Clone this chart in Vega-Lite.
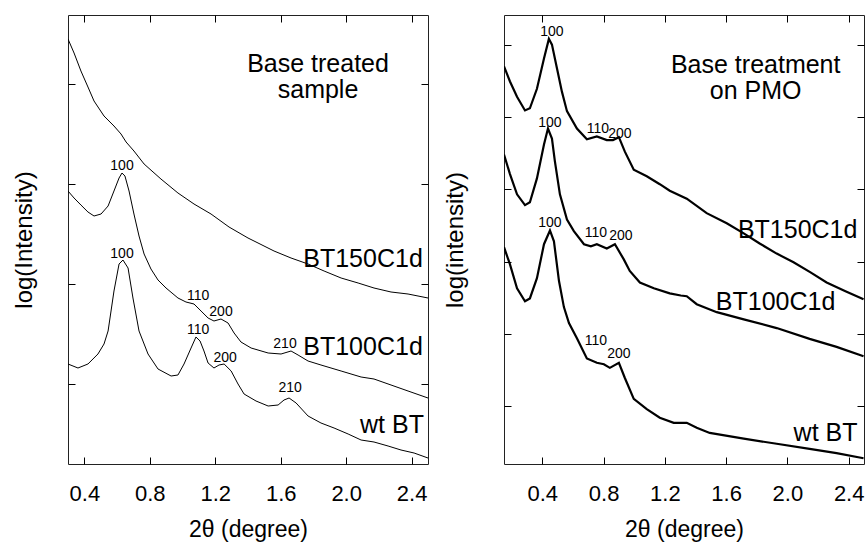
{
  "$schema": "https://vega.github.io/schema/vega-lite/v6.json",
  "padding": {"left": 11, "top": 14, "right": 0, "bottom": 0},
  "background": "white",
  "spacing": 76,
  "bounds": "flush",
  "config": {
    "font": "Liberation Sans",
    "view": {"stroke": "#222", "strokeWidth": 1},
    "axis": {
      "domain": false, "grid": false,
      "tickColor": "black", "tickSize": -7, "tickWidth": 1,
      "labelFont": "Liberation Sans", "labelFontSize": 22, "labelColor": "black",
      "labelBaseline": "alphabetic", "labelPadding": 43,
      "titleFont": "Liberation Sans", "titleFontSize": 23, "titleFontWeight": "normal", "titleColor": "black"
    },
    "text": {"font": "Liberation Sans", "color": "black"}
  },
  "datasets": {
    "left": [
      {"s":"BT150C1d","x":0.300,"y":4.45},{"s":"BT150C1d","x":0.337,"y":4.31},{"s":"BT150C1d","x":0.379,"y":4.13},{"s":"BT150C1d","x":0.422,"y":3.97},{"s":"BT150C1d","x":0.459,"y":3.83},{"s":"BT150C1d","x":0.520,"y":3.68},{"s":"BT150C1d","x":0.581,"y":3.58},{"s":"BT150C1d","x":0.624,"y":3.50},{"s":"BT150C1d","x":0.655,"y":3.42},{"s":"BT150C1d","x":0.703,"y":3.33},{"s":"BT150C1d","x":0.765,"y":3.20},{"s":"BT150C1d","x":0.868,"y":3.05},{"s":"BT150C1d","x":0.972,"y":2.91},{"s":"BT150C1d","x":1.070,"y":2.80},{"s":"BT150C1d","x":1.174,"y":2.70},{"s":"BT150C1d","x":1.284,"y":2.57},{"s":"BT150C1d","x":1.400,"y":2.46},{"s":"BT150C1d","x":1.559,"y":2.33},{"s":"BT150C1d","x":1.663,"y":2.26},{"s":"BT150C1d","x":1.767,"y":2.20},{"s":"BT150C1d","x":1.865,"y":2.13},{"s":"BT150C1d","x":1.969,"y":2.06},{"s":"BT150C1d","x":2.073,"y":2.01},{"s":"BT150C1d","x":2.170,"y":1.96},{"s":"BT150C1d","x":2.274,"y":1.92},{"s":"BT150C1d","x":2.378,"y":1.90},{"s":"BT150C1d","x":2.500,"y":1.86},
      {"s":"BT100C1d","x":0.300,"y":2.93},{"s":"BT100C1d","x":0.337,"y":2.86},{"s":"BT100C1d","x":0.379,"y":2.79},{"s":"BT100C1d","x":0.422,"y":2.72},{"s":"BT100C1d","x":0.459,"y":2.68},{"s":"BT100C1d","x":0.502,"y":2.70},{"s":"BT100C1d","x":0.545,"y":2.78},{"s":"BT100C1d","x":0.581,"y":2.93},{"s":"BT100C1d","x":0.612,"y":3.06},{"s":"BT100C1d","x":0.630,"y":3.11},{"s":"BT100C1d","x":0.648,"y":3.08},{"s":"BT100C1d","x":0.673,"y":2.93},{"s":"BT100C1d","x":0.703,"y":2.70},{"s":"BT100C1d","x":0.734,"y":2.48},{"s":"BT100C1d","x":0.765,"y":2.30},{"s":"BT100C1d","x":0.807,"y":2.15},{"s":"BT100C1d","x":0.850,"y":2.04},{"s":"BT100C1d","x":0.899,"y":1.96},{"s":"BT100C1d","x":0.972,"y":1.86},{"s":"BT100C1d","x":1.021,"y":1.82},{"s":"BT100C1d","x":1.070,"y":1.80},{"s":"BT100C1d","x":1.113,"y":1.73},{"s":"BT100C1d","x":1.156,"y":1.66},{"s":"BT100C1d","x":1.192,"y":1.63},{"s":"BT100C1d","x":1.235,"y":1.65},{"s":"BT100C1d","x":1.278,"y":1.61},{"s":"BT100C1d","x":1.315,"y":1.51},{"s":"BT100C1d","x":1.357,"y":1.42},{"s":"BT100C1d","x":1.419,"y":1.36},{"s":"BT100C1d","x":1.523,"y":1.31},{"s":"BT100C1d","x":1.602,"y":1.30},{"s":"BT100C1d","x":1.663,"y":1.33},{"s":"BT100C1d","x":1.706,"y":1.29},{"s":"BT100C1d","x":1.767,"y":1.23},{"s":"BT100C1d","x":1.846,"y":1.19},{"s":"BT100C1d","x":1.969,"y":1.13},{"s":"BT100C1d","x":2.091,"y":1.07},{"s":"BT100C1d","x":2.170,"y":1.05},{"s":"BT100C1d","x":2.274,"y":0.99},{"s":"BT100C1d","x":2.378,"y":0.93},{"s":"BT100C1d","x":2.500,"y":0.86},
      {"s":"wt BT","x":0.300,"y":1.20},{"s":"wt BT","x":0.361,"y":1.16},{"s":"wt BT","x":0.422,"y":1.20},{"s":"wt BT","x":0.483,"y":1.30},{"s":"wt BT","x":0.520,"y":1.40},{"s":"wt BT","x":0.545,"y":1.53},{"s":"wt BT","x":0.563,"y":1.73},{"s":"wt BT","x":0.581,"y":1.93},{"s":"wt BT","x":0.612,"y":2.20},{"s":"wt BT","x":0.636,"y":2.24},{"s":"wt BT","x":0.667,"y":2.16},{"s":"wt BT","x":0.697,"y":1.86},{"s":"wt BT","x":0.734,"y":1.53},{"s":"wt BT","x":0.789,"y":1.30},{"s":"wt BT","x":0.850,"y":1.15},{"s":"wt BT","x":0.930,"y":1.08},{"s":"wt BT","x":0.972,"y":1.09},{"s":"wt BT","x":1.009,"y":1.20},{"s":"wt BT","x":1.052,"y":1.36},{"s":"wt BT","x":1.082,"y":1.47},{"s":"wt BT","x":1.107,"y":1.43},{"s":"wt BT","x":1.131,"y":1.33},{"s":"wt BT","x":1.156,"y":1.21},{"s":"wt BT","x":1.192,"y":1.16},{"s":"wt BT","x":1.223,"y":1.19},{"s":"wt BT","x":1.254,"y":1.20},{"s":"wt BT","x":1.297,"y":1.13},{"s":"wt BT","x":1.339,"y":1.00},{"s":"wt BT","x":1.376,"y":0.90},{"s":"wt BT","x":1.449,"y":0.83},{"s":"wt BT","x":1.523,"y":0.78},{"s":"wt BT","x":1.584,"y":0.79},{"s":"wt BT","x":1.620,"y":0.84},{"s":"wt BT","x":1.651,"y":0.86},{"s":"wt BT","x":1.694,"y":0.81},{"s":"wt BT","x":1.767,"y":0.68},{"s":"wt BT","x":1.846,"y":0.61},{"s":"wt BT","x":1.926,"y":0.56},{"s":"wt BT","x":2.012,"y":0.50},{"s":"wt BT","x":2.091,"y":0.44},{"s":"wt BT","x":2.170,"y":0.42},{"s":"wt BT","x":2.256,"y":0.38},{"s":"wt BT","x":2.335,"y":0.34},{"s":"wt BT","x":2.415,"y":0.31},{"s":"wt BT","x":2.500,"y":0.26}
    ],
    "right": [
      {"s":"BT150C1d","x":0.150,"y":5.70},{"s":"BT150C1d","x":0.189,"y":5.49},{"s":"BT150C1d","x":0.235,"y":5.28},{"s":"BT150C1d","x":0.287,"y":5.09},{"s":"BT150C1d","x":0.319,"y":5.12},{"s":"BT150C1d","x":0.365,"y":5.39},{"s":"BT150C1d","x":0.411,"y":5.81},{"s":"BT150C1d","x":0.443,"y":6.08},{"s":"BT150C1d","x":0.463,"y":6.00},{"s":"BT150C1d","x":0.496,"y":5.67},{"s":"BT150C1d","x":0.528,"y":5.35},{"s":"BT150C1d","x":0.561,"y":5.08},{"s":"BT150C1d","x":0.626,"y":4.84},{"s":"BT150C1d","x":0.691,"y":4.69},{"s":"BT150C1d","x":0.756,"y":4.73},{"s":"BT150C1d","x":0.821,"y":4.68},{"s":"BT150C1d","x":0.861,"y":4.68},{"s":"BT150C1d","x":0.900,"y":4.72},{"s":"BT150C1d","x":0.939,"y":4.52},{"s":"BT150C1d","x":0.997,"y":4.27},{"s":"BT150C1d","x":1.082,"y":4.18},{"s":"BT150C1d","x":1.167,"y":4.07},{"s":"BT150C1d","x":1.232,"y":3.98},{"s":"BT150C1d","x":1.343,"y":3.87},{"s":"BT150C1d","x":1.473,"y":3.67},{"s":"BT150C1d","x":1.604,"y":3.53},{"s":"BT150C1d","x":1.715,"y":3.39},{"s":"BT150C1d","x":1.819,"y":3.25},{"s":"BT150C1d","x":1.930,"y":3.11},{"s":"BT150C1d","x":2.040,"y":2.99},{"s":"BT150C1d","x":2.151,"y":2.85},{"s":"BT150C1d","x":2.256,"y":2.71},{"s":"BT150C1d","x":2.379,"y":2.59},{"s":"BT150C1d","x":2.497,"y":2.48},
      {"s":"BT100C1d","x":0.150,"y":4.48},{"s":"BT100C1d","x":0.189,"y":4.21},{"s":"BT100C1d","x":0.235,"y":3.93},{"s":"BT100C1d","x":0.287,"y":3.78},{"s":"BT100C1d","x":0.319,"y":3.82},{"s":"BT100C1d","x":0.365,"y":4.15},{"s":"BT100C1d","x":0.411,"y":4.62},{"s":"BT100C1d","x":0.437,"y":4.84},{"s":"BT100C1d","x":0.463,"y":4.70},{"s":"BT100C1d","x":0.482,"y":4.39},{"s":"BT100C1d","x":0.515,"y":3.93},{"s":"BT100C1d","x":0.561,"y":3.58},{"s":"BT100C1d","x":0.606,"y":3.42},{"s":"BT100C1d","x":0.672,"y":3.24},{"s":"BT100C1d","x":0.717,"y":3.21},{"s":"BT100C1d","x":0.756,"y":3.24},{"s":"BT100C1d","x":0.821,"y":3.18},{"s":"BT100C1d","x":0.874,"y":3.24},{"s":"BT100C1d","x":0.932,"y":3.03},{"s":"BT100C1d","x":0.971,"y":2.87},{"s":"BT100C1d","x":1.037,"y":2.71},{"s":"BT100C1d","x":1.128,"y":2.63},{"s":"BT100C1d","x":1.232,"y":2.56},{"s":"BT100C1d","x":1.304,"y":2.53},{"s":"BT100C1d","x":1.343,"y":2.52},{"s":"BT100C1d","x":1.408,"y":2.41},{"s":"BT100C1d","x":1.539,"y":2.30},{"s":"BT100C1d","x":1.715,"y":2.20},{"s":"BT100C1d","x":1.930,"y":2.08},{"s":"BT100C1d","x":2.145,"y":1.93},{"s":"BT100C1d","x":2.321,"y":1.82},{"s":"BT100C1d","x":2.497,"y":1.69},
      {"s":"wt BT","x":0.150,"y":3.20},{"s":"wt BT","x":0.189,"y":2.96},{"s":"wt BT","x":0.235,"y":2.63},{"s":"wt BT","x":0.287,"y":2.45},{"s":"wt BT","x":0.319,"y":2.49},{"s":"wt BT","x":0.365,"y":2.77},{"s":"wt BT","x":0.411,"y":3.24},{"s":"wt BT","x":0.450,"y":3.43},{"s":"wt BT","x":0.476,"y":3.28},{"s":"wt BT","x":0.509,"y":2.73},{"s":"wt BT","x":0.541,"y":2.37},{"s":"wt BT","x":0.574,"y":2.15},{"s":"wt BT","x":0.626,"y":1.94},{"s":"wt BT","x":0.691,"y":1.66},{"s":"wt BT","x":0.756,"y":1.60},{"s":"wt BT","x":0.802,"y":1.58},{"s":"wt BT","x":0.841,"y":1.53},{"s":"wt BT","x":0.900,"y":1.60},{"s":"wt BT","x":0.939,"y":1.39},{"s":"wt BT","x":0.997,"y":1.10},{"s":"wt BT","x":1.082,"y":0.96},{"s":"wt BT","x":1.167,"y":0.84},{"s":"wt BT","x":1.258,"y":0.77},{"s":"wt BT","x":1.343,"y":0.77},{"s":"wt BT","x":1.408,"y":0.70},{"s":"wt BT","x":1.493,"y":0.63},{"s":"wt BT","x":1.715,"y":0.55},{"s":"wt BT","x":1.930,"y":0.48},{"s":"wt BT","x":2.145,"y":0.41},{"s":"wt BT","x":2.321,"y":0.35},{"s":"wt BT","x":2.497,"y":0.28}
    ],
    "leftSmall": [
      {"x":0.630,"y":3.18,"t":"100"},{"x":0.630,"y":2.30,"t":"100"},{"x":1.095,"y":1.88,"t":"110"},{"x":1.235,"y":1.72,"t":"200"},{"x":1.095,"y":1.54,"t":"110"},{"x":1.260,"y":1.26,"t":"200"},{"x":1.626,"y":1.40,"t":"210"},{"x":1.657,"y":0.96,"t":"210"}
    ],
    "leftBig": [
      {"x":1.828,"y":4.12,"t":"Base treated"},{"x":1.828,"y":3.86,"t":"sample"},{"x":2.103,"y":2.17,"t":"BT150C1d"},{"x":2.103,"y":1.29,"t":"BT100C1d"},{"x":2.28,"y":0.51,"t":"wt BT"}
    ],
    "rightSmall": [
      {"x":0.463,"y":6.17,"t":"100"},{"x":0.763,"y":4.83,"t":"110"},{"x":0.906,"y":4.77,"t":"200"},{"x":0.450,"y":4.91,"t":"100"},{"x":0.750,"y":3.40,"t":"110"},{"x":0.913,"y":3.36,"t":"200"},{"x":0.450,"y":3.54,"t":"100"},{"x":0.750,"y":1.90,"t":"110"},{"x":0.900,"y":1.72,"t":"200"}
    ],
    "rightBig": [
      {"x":1.793,"y":5.61,"t":"Base treatment"},{"x":1.793,"y":5.25,"t":"on PMO"},{"x":2.067,"y":3.32,"t":"BT150C1d"},{"x":1.923,"y":2.33,"t":"BT100C1d"},{"x":2.249,"y":0.52,"t":"wt BT"}
    ]
  },
  "hconcat": [
    {
      "width": 360, "height": 449,
      "resolve": {"axis": {"x": "independent", "y": "independent"}},
      "layer": [
        {
          "data": {"name": "left"},
          "mark": {"type": "line", "color": "black", "strokeWidth": 1, "clip": true},
          "encoding": {
            "x": {"field": "x", "type": "quantitative", "scale": {"domain": [0.3, 2.5], "nice": false, "zero": false},
                  "axis": {"orient": "bottom", "values": [0.4, 0.8, 1.2, 1.6, 2.0, 2.4], "format": ".1f", "title": "2θ (degree)", "titleY": 72, "titleBaseline": "alphabetic"}},
            "y": {"field": "y", "type": "quantitative", "scale": {"domain": [0.2, 4.69], "nice": false, "zero": false},
                  "axis": {"orient": "left", "values": [1, 2, 3, 4], "labels": false, "title": "log(Intensity)", "titleX": -44, "titleY": 224.5, "titleBaseline": "middle", "titleAngle": 270, "titleFontSize": 24}},
            "detail": {"field": "s"}
          }
        },
        {
          "data": {"name": "leftSmall"},
          "mark": {"type": "text", "fontSize": 14, "align": "center", "baseline": "middle"},
          "encoding": {
            "x": {"field": "x", "type": "quantitative", "axis": {"orient": "top", "values": [0.4, 0.8, 1.2, 1.6, 2.0, 2.4], "labels": false, "title": null}},
            "y": {"field": "y", "type": "quantitative", "axis": {"orient": "right", "values": [1, 2, 3, 4], "labels": false, "title": null}},
            "text": {"field": "t"}
          }
        },
        {
          "data": {"name": "leftBig"},
          "mark": {"type": "text", "fontSize": 25, "align": "center", "baseline": "alphabetic"},
          "encoding": {
            "x": {"field": "x", "type": "quantitative", "axis": null},
            "y": {"field": "y", "type": "quantitative", "axis": null},
            "text": {"field": "t"}
          }
        }
      ]
    },
    {
      "width": 360, "height": 449,
      "resolve": {"axis": {"x": "independent", "y": "independent"}},
      "layer": [
        {
          "data": {"name": "right"},
          "mark": {"type": "line", "color": "black", "strokeWidth": 2.2, "clip": true},
          "encoding": {
            "x": {"field": "x", "type": "quantitative", "scale": {"domain": [0.15, 2.5], "nice": false, "zero": false},
                  "axis": {"orient": "bottom", "values": [0.4, 0.8, 1.2, 1.6, 2.0, 2.4], "format": ".1f", "title": "2θ (degree)", "titleY": 72, "titleBaseline": "alphabetic"}},
            "y": {"field": "y", "type": "quantitative", "scale": {"domain": [0.2, 6.41], "nice": false, "zero": false},
                  "axis": {"orient": "left", "values": [1, 2, 3, 4, 5, 6], "labels": false, "title": "log(intensity)", "titleX": -49, "titleY": 224.5, "titleBaseline": "middle", "titleAngle": 270, "titleFontSize": 24}},
            "detail": {"field": "s"}
          }
        },
        {
          "data": {"name": "rightSmall"},
          "mark": {"type": "text", "fontSize": 14, "align": "center", "baseline": "middle"},
          "encoding": {
            "x": {"field": "x", "type": "quantitative", "axis": {"orient": "top", "values": [0.4, 0.8, 1.2, 1.6, 2.0, 2.4], "labels": false, "title": null}},
            "y": {"field": "y", "type": "quantitative", "axis": {"orient": "right", "values": [1, 2, 3, 4, 5, 6], "labels": false, "title": null}},
            "text": {"field": "t"}
          }
        },
        {
          "data": {"name": "rightBig"},
          "mark": {"type": "text", "fontSize": 25, "align": "center", "baseline": "alphabetic"},
          "encoding": {
            "x": {"field": "x", "type": "quantitative", "axis": null},
            "y": {"field": "y", "type": "quantitative", "axis": null},
            "text": {"field": "t"}
          }
        }
      ]
    }
  ]
}
